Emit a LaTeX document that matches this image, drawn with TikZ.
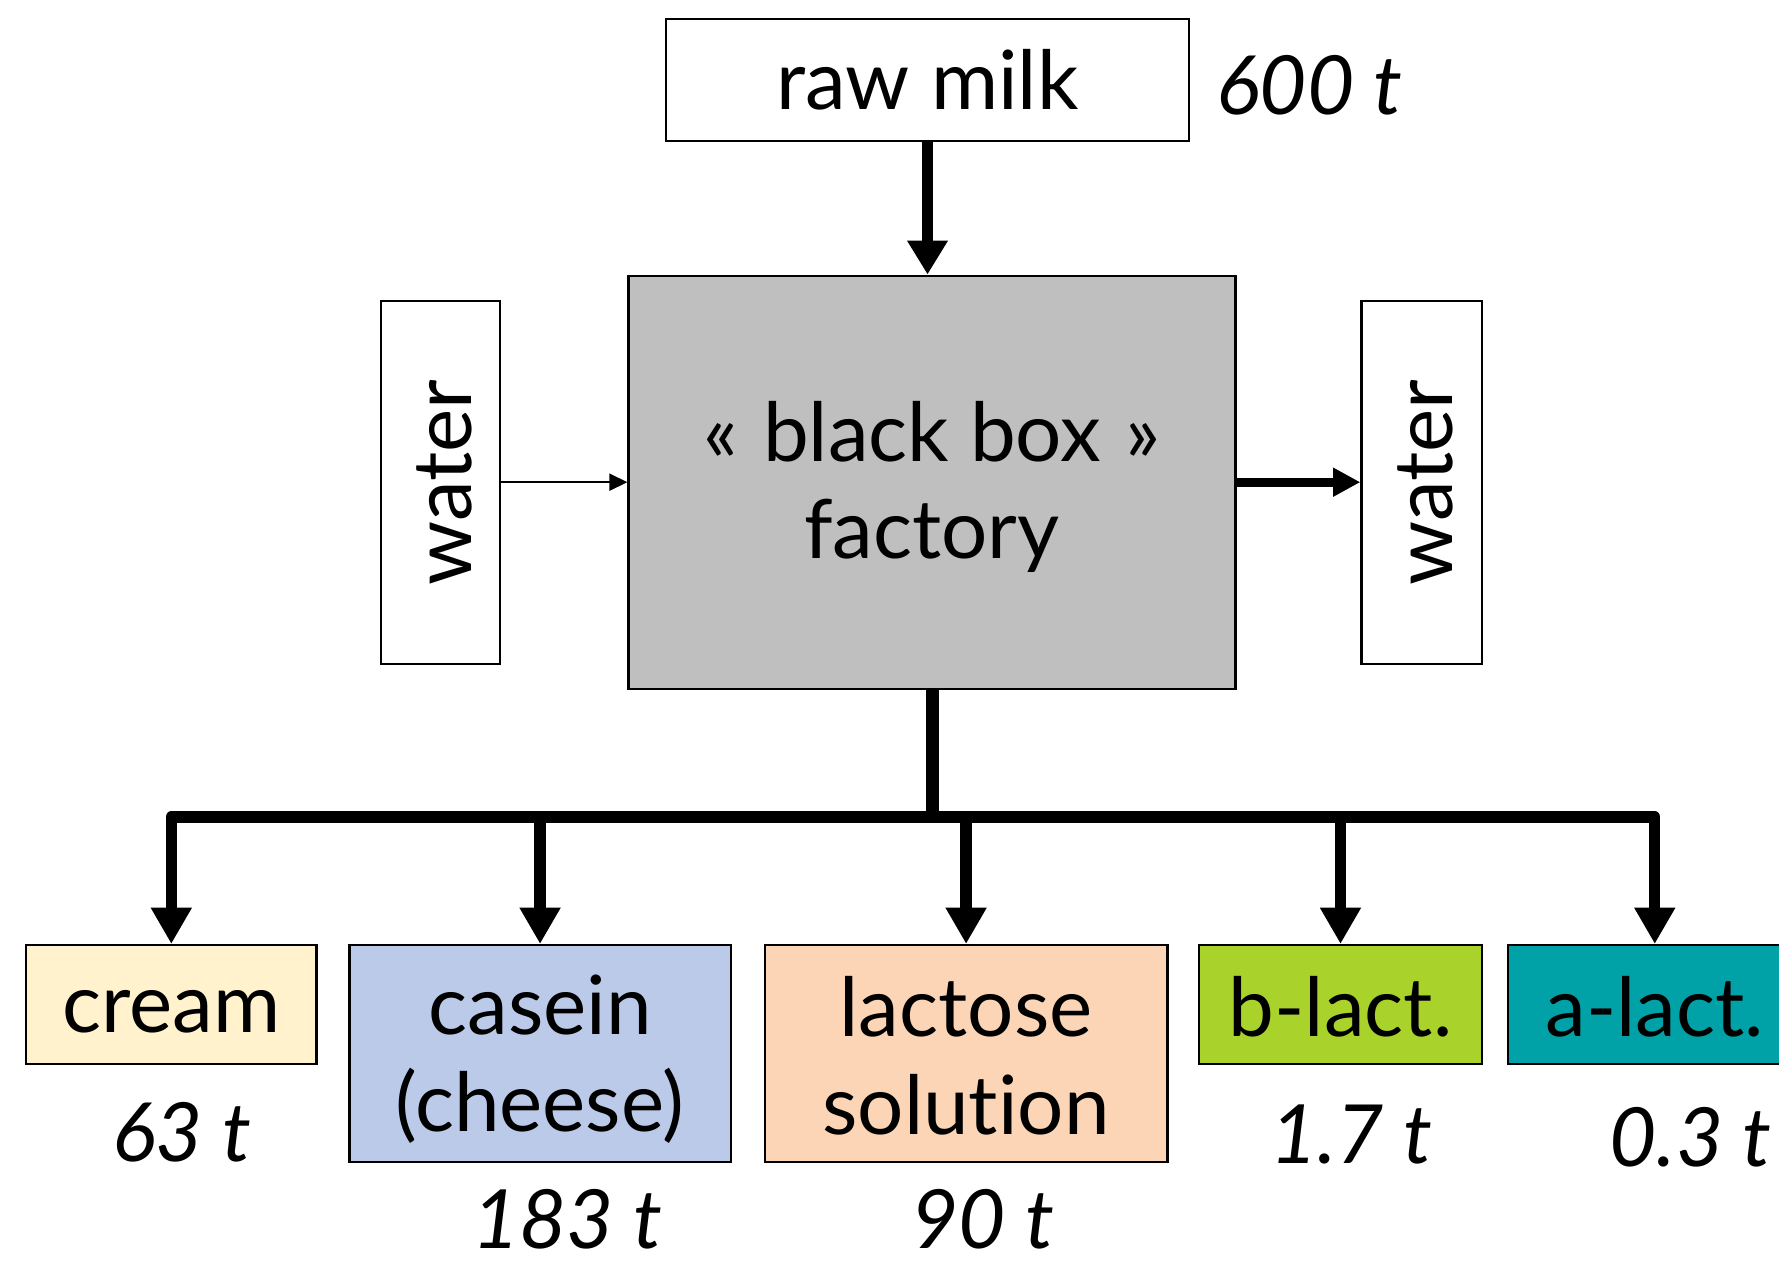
\documentclass[tikz,border=0pt]{standalone}
\usepackage{fontspec}
\usepackage{graphicx}
\setmainfont[Ligatures={NoCommon,NoRare,NoContextual}]{Lato}
\usetikzlibrary{arrows.meta}
\definecolor{boxgray}{HTML}{BFBFBF}
\definecolor{creamc}{HTML}{FFF2CC}
\definecolor{caseinc}{HTML}{BCCAE9}
\definecolor{lactosec}{HTML}{FBD5B5}
\definecolor{blactc}{HTML}{A9D22B}
\definecolor{alactc}{HTML}{00A2A7}
\begin{document}
\begin{tikzpicture}[x=0.5pt,y=-0.5pt,
  box/.style={draw=black, line width=1pt, inner sep=0pt},
  txt/.style={inner sep=0pt, align=center, font=\fontsize{36}{43}\selectfont},
  qty/.style={inner sep=0pt, font=\fontsize{36}{43}\selectfont\itshape},
  bigflow/.style={line width=5pt, line join=round, -{Triangle[width=17pt,length=16pt]}},
  topflow/.style={line width=4.5pt, -{Triangle[width=17pt,length=15pt]}},
  midflow/.style={line width=4pt, -{Triangle[width=12pt,length=12pt]}},
  thinflow/.style={line width=1pt, -{Triangle[width=7.5pt,length=8pt]}},
]
\useasboundingbox (0,0) rectangle (1568,1112.3);
\clip (0,0) rectangle (1568,1112.3);

\node[box, minimum width=230.5pt, minimum height=53.5pt] (raw) at (817.5,70.5) {};
\node[txt] (rawT) at (raw.center) {raw milk};
\node[qty] (q600) at (1154,75) {600 t};

\node[box, fill=boxgray, minimum width=267.5pt, minimum height=182pt] (bb) at (821.5,425) {};
\node[txt] (bbT) at ([yshift=-2pt]bb.center) {«\hspace{0.3em}black box\hspace{0.3em}»\\factory};

\node[box, minimum width=52.5pt, minimum height=160pt] (wl) at (388.5,425) {};
\node[txt] (wlT) at ([xshift=1.5pt]wl.center) {\rotatebox{90}{water}};
\node[box, minimum width=53pt, minimum height=160pt] (wr) at (1253,425) {};
\node[txt] (wrT) at ([xshift=1.5pt]wr.center) {\rotatebox{90}{water}};

\node[box, fill=creamc, minimum width=128pt, minimum height=52.5pt] (cream) at (151,885.5) {};
\node[txt] (creamT) at ([yshift=-3pt]cream.center) {cream};
\node[box, fill=caseinc, minimum width=168pt, minimum height=95.5pt] (casein) at (476,928.5) {};
\node[txt] (caseinT) at ([yshift=-2.5pt]casein.center) {casein\\(cheese)};
\node[box, fill=lactosec, minimum width=177.5pt, minimum height=95.5pt] (lactose) at (851.5,928.5) {};
\node[txt] (lactoseT) at ([yshift=-1pt]lactose.center) {lactose\\solution};
\node[box, fill=blactc, minimum width=124.5pt, minimum height=52.5pt] (blact) at (1181.5,885.5) {};
\node[txt] (blactT) at ([yshift=-1pt]blact.center) {b-lact.};
\node[box, fill=alactc, minimum width=129.5pt, minimum height=52.5pt] (alact) at (1458.5,885.5) {};
\node[txt] (alactT) at ([yshift=-1pt]alact.center) {a-lact.};

\node[qty] (q63) at (160,998) {63 t};
\node[qty] (q183) at (500,1075) {183 t};
\node[qty] (q90) at (866,1075) {90 t};
\node[qty] (q17) at (1191,1000) {1.7 t};
\node[qty] (q03) at (1490,1002) {0.3 t};

\draw[topflow] (raw.south) -- (raw.south |- bb.north);
\draw[thinflow] (wl.east) -- (bb.west);
\draw[midflow] (bb.east) -- (wr.west);

\coordinate (J) at (822,720);
\draw[line width=5.5pt] (bb.south -| J) -- (J);
\draw[bigflow] (J) -| (cream.north);
\draw[bigflow] (J) -| (casein.north);
\draw[bigflow] (J) -| (lactose.north);
\draw[bigflow] (J) -| (blact.north);
\draw[bigflow] (J) -| (alact.north);
\end{tikzpicture}
\end{document}
